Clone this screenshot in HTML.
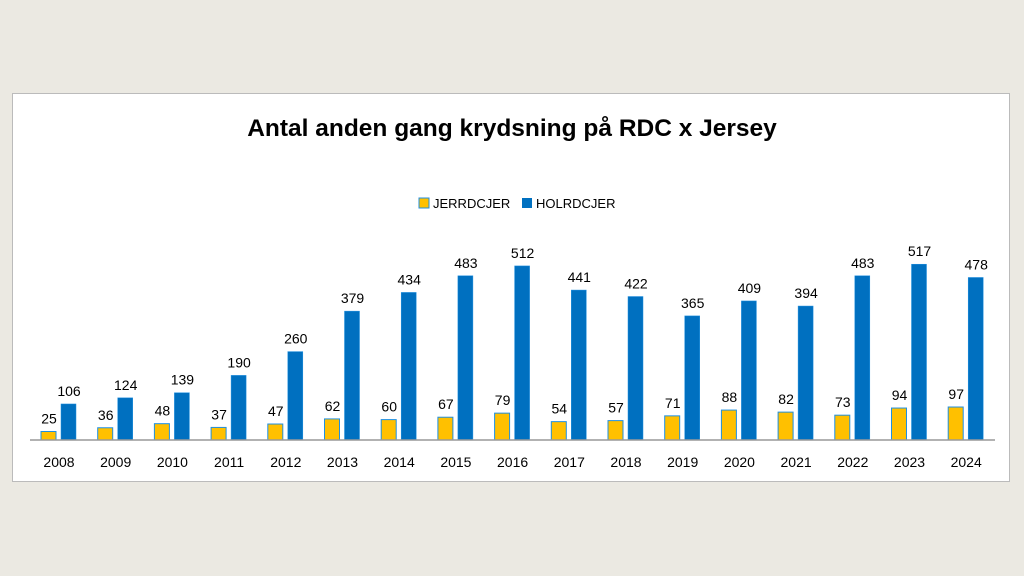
<!DOCTYPE html><html><head><style>body{margin:0;background:#ebe9e2;width:1024px;height:576px;overflow:hidden}</style></head><body>
<svg width="1024" height="576" style="position:absolute;left:0;top:0" font-family="Liberation Sans, sans-serif">
<rect x="12.5" y="93.5" width="997" height="388" fill="#fff" stroke="#bbb"/>
<text x="512" y="136" text-anchor="middle" font-size="24.5" font-weight="bold" fill="#000">Antal anden gang krydsning på RDC x Jersey</text>
<rect x="419" y="198" width="10" height="10" fill="#ffc000" stroke="#1f8fe0"/><text x="433" y="208" font-size="13">JERRDCJER</text>
<rect x="522" y="198" width="10" height="10" fill="#0070c0"/><text x="536" y="208" font-size="13">HOLRDCJER</text>
<g id="g"></g>
<line x1="30" y1="440" x2="995" y2="440" stroke="#999" stroke-width="1.5"/>
</svg>
<script>
var y=[25,36,48,37,47,62,60,67,79,54,57,71,88,82,73,94,97],h=[106,124,139,190,260,379,434,483,512,441,422,365,409,394,483,517,478];
var s='',k=0.34;
for(var i=0;i<17;i++){var x=41+i*56.7;var a=y[i]*k,b=h[i]*k;
s+='<rect x="'+x+'" y="'+(440-a)+'" width="15" height="'+a+'" fill="#ffc000" stroke="#1f8fe0" stroke-width="1"/>';
s+='<rect x="'+(x+20)+'" y="'+(440-b)+'" width="15" height="'+b+'" fill="#0070c0" stroke="#1f8fe0" stroke-width="0.5"/>';
s+='<text x="'+(x+8)+'" y="'+(440-a-8)+'" text-anchor="middle" font-size="14">'+y[i]+'</text>';
s+='<text x="'+(x+28)+'" y="'+(440-b-8)+'" text-anchor="middle" font-size="14">'+h[i]+'</text>';
s+='<text x="'+(x+18)+'" y="467" text-anchor="middle" font-size="14">'+(2008+i)+'</text>';}
document.getElementById('g').innerHTML=s;
</script></body></html>
